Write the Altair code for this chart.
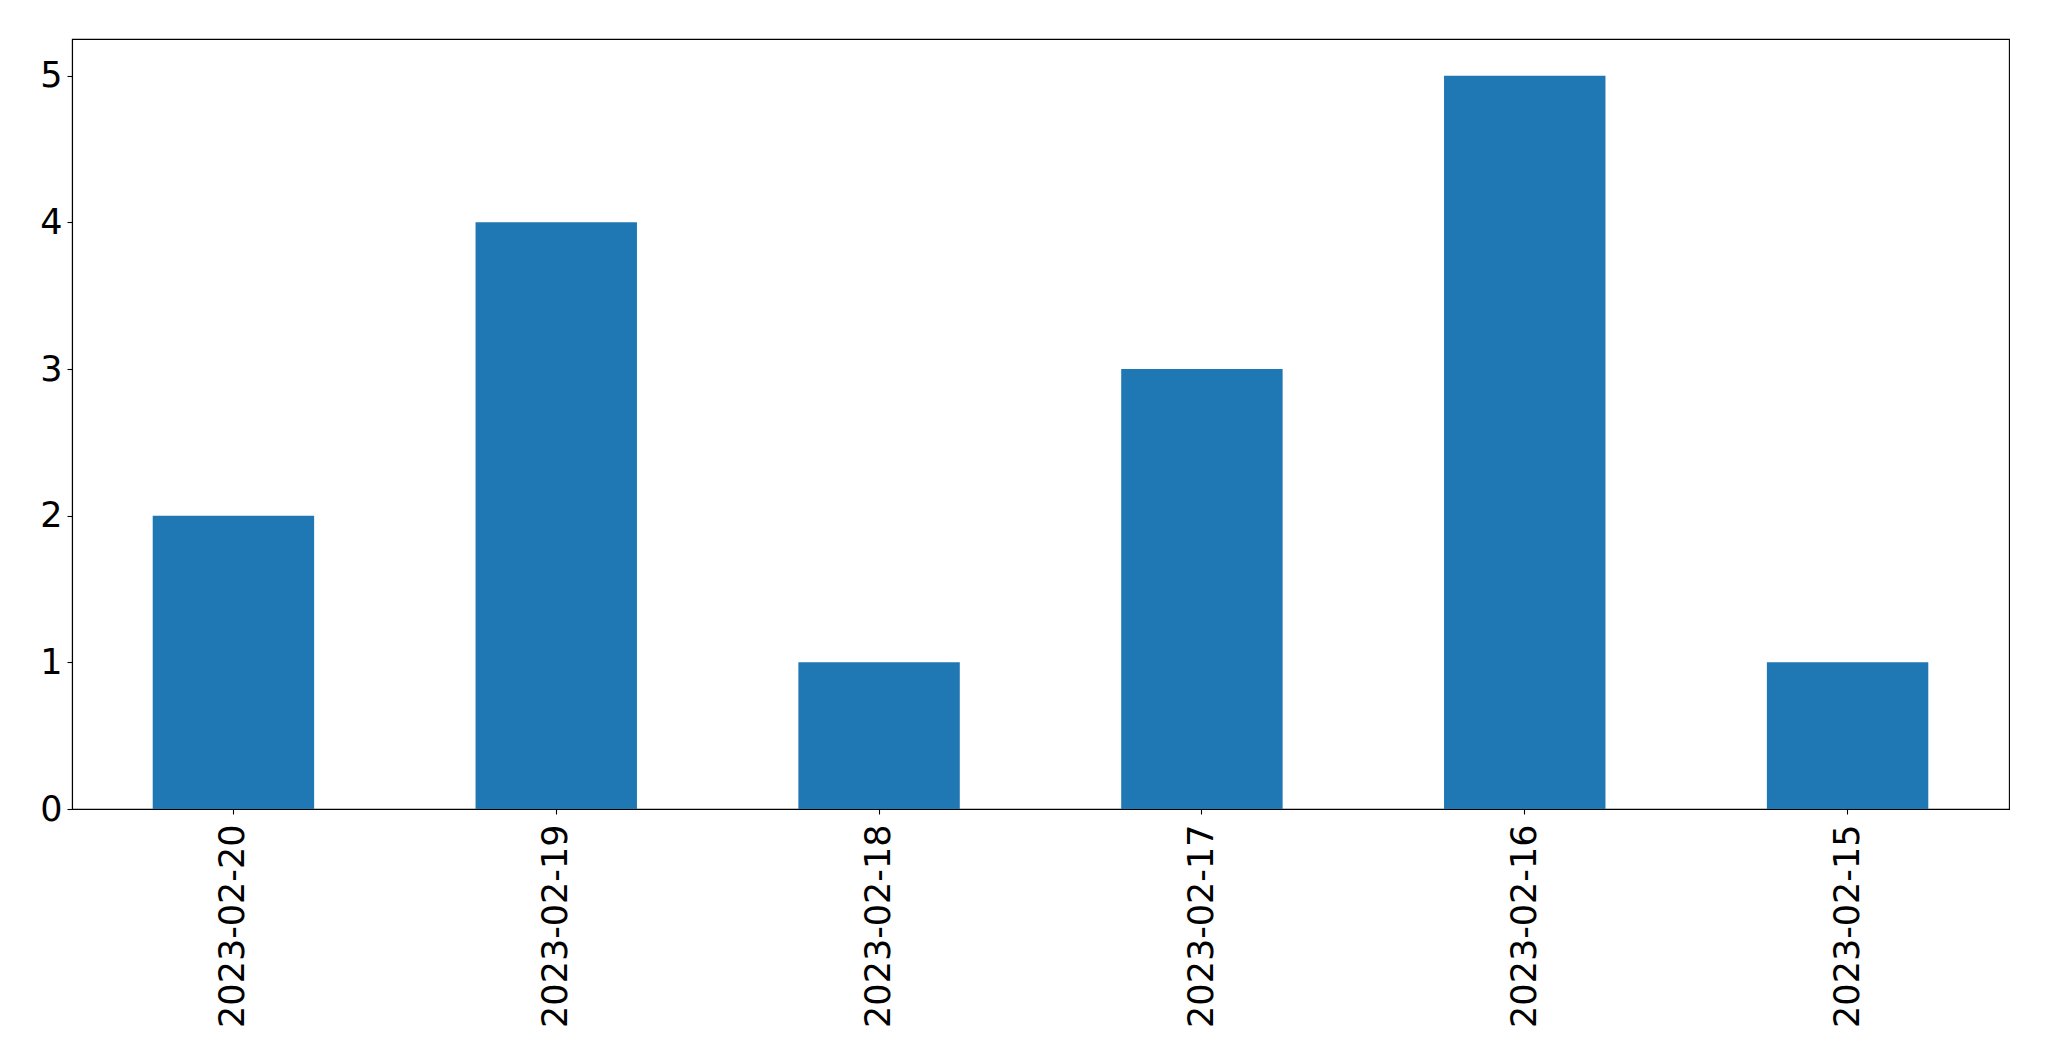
import altair as alt
import pandas as pd

dates = ["2023-02-20", "2023-02-19", "2023-02-18", "2023-02-17", "2023-02-16", "2023-02-15"]
counts = [2, 4, 1, 3, 5, 1]
y_ticks = [0, 1, 2, 3, 4, 5]

df = pd.DataFrame({"date": dates, "count": counts})

FONT = "DejaVu Sans"
FS = 35

chart = alt.Chart(df).mark_bar(color="#1f77b4").encode(
    x=alt.X(
        "date:N",
        sort=None,
        title=None,
        scale=alt.Scale(paddingInner=0.5, paddingOuter=0.25),
        axis=alt.Axis(
            labelAngle=270,
            labelAlign="right",
            labelBaseline="middle",
            labelFont=FONT,
            labelFontSize=FS,
            labelColor="black",
            labelPadding=10,
            labelLimit=0,
            tickSize=5,
            tickColor="black",
            tickWidth=1.1,
            domainColor="black",
            domainWidth=1.1,
            grid=False,
        ),
    ),
    y=alt.Y(
        "count:Q",
        title=None,
        scale=alt.Scale(domain=[0, 5.25], nice=False, zero=True),
        axis=alt.Axis(
            values=y_ticks,
            format="d",
            labelFont=FONT,
            labelFontSize=FS,
            labelColor="black",
            labelPadding=5,
            tickSize=5,
            tickColor="black",
            tickWidth=1.1,
            domainColor="black",
            domainWidth=1.1,
            grid=False,
        ),
    ),
).properties(
    width=1937,
    height=770,
    autosize=alt.AutoSizeParams(type="none"),
    padding={"left": 64, "top": 31, "right": 30, "bottom": 240},
).configure(
    background="white",
    view=alt.ViewConfig(stroke="black", strokeWidth=1.1),
)

chart.save("out.html", embed_options={"renderer": "svg", "actions": False})
